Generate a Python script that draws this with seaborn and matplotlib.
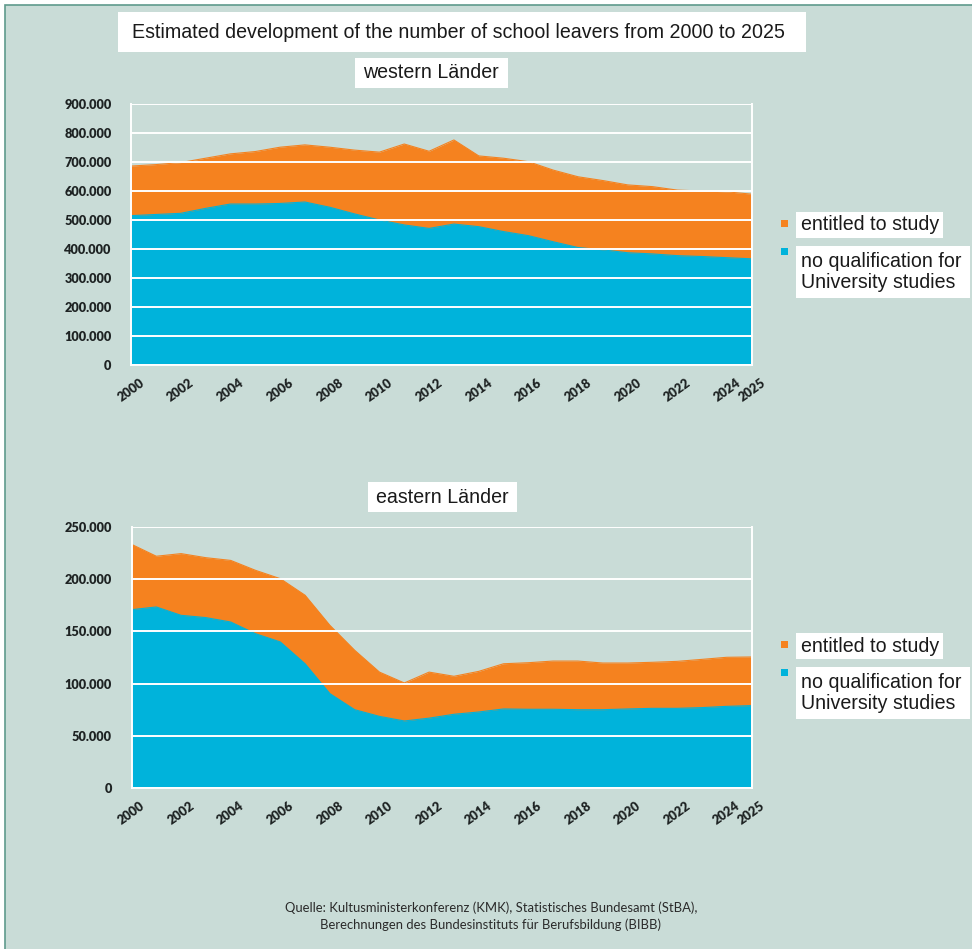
import matplotlib
matplotlib.use("Agg")
import matplotlib.pyplot as plt
from matplotlib.patches import Rectangle
from matplotlib.ticker import FuncFormatter
import numpy as np
import pandas as pd
import seaborn as sns

# ---- data -------------------------------------------------------------
years = list(range(2000, 2026))

west_no_qual = [515, 519, 523, 540, 555, 555, 557, 562, 544, 521, 500, 483, 471,
                486, 477, 460, 446, 425, 405, 397, 387, 383, 377, 374, 370, 366]
west_total = [686, 691, 698, 713, 728, 736, 751, 759, 751, 741, 734, 762, 737,
              776, 721, 713, 701, 672, 649, 636, 621, 615, 603, 600, 597, 589]

east_no_qual = [170.8, 173.4, 165.4, 163.2, 159.0, 147.8, 139.9, 119.0, 90.4, 75.0,
                68.6, 64.2, 66.9, 70.6, 72.8, 75.7, 75.4, 75.4, 75.0, 75.0,
                75.7, 76.3, 76.3, 77.0, 78.2, 78.9]
east_total = [233.4, 222.0, 224.5, 220.6, 218.0, 208.5, 200.5, 184.6, 155.8, 131.9,
              111.0, 100.6, 111.0, 107.0, 111.7, 119.0, 120.0, 121.6, 121.6, 119.7,
              119.7, 120.4, 121.3, 123.2, 125.2, 125.5]

x_tick_years = [2000, 2002, 2004, 2006, 2008, 2010, 2012, 2014, 2016, 2018,
                2020, 2022, 2024, 2025]

series_labels = ["entitled to study", "no qualification for\nUniversity studies"]
title_text = "Estimated development of the number of school leavers from 2000 to 2025"
panel_titles = ["western Länder", "eastern Länder"]
source_text = ("Quelle: Kultusministerkonferenz (KMK), Statistisches Bundesamt (StBA),\n"
               "Berechnungen des Bundesinstituts für Berufsbildung (BIBB)")

# ---- style ------------------------------------------------------------
ORANGE = "#f5821f"
BLUE = "#00b3db"
BG = "#c9dcd7"
FRAME = "#5f9a8c"
TEXT_SIZE = 14.1

sns.set_theme(style="white")
plt.rcParams["font.family"] = ["Liberation Sans", "DejaVu Sans"]

W, H = 972, 949
fig = plt.figure(figsize=(W / 100, H / 100), dpi=100)
fig.patch.set_facecolor("white")


def fx(px):
    return px / W


def fy(py):
    return 1 - py / H


# panel background with thin frame
fig.patches.append(Rectangle((fx(5), fy(H + 5)), fx(W), 1.0,
                             transform=fig.transFigure, facecolor=BG,
                             edgecolor=FRAME, linewidth=1.2, zorder=-10))


def white_box(x0, y0, x1, y1):
    fig.patches.append(Rectangle((fx(x0), fy(y1)), fx(x1 - x0), (y1 - y0) / H,
                                 transform=fig.transFigure, facecolor="white",
                                 edgecolor="none", zorder=1))


def swatch(x0, y0, color, size=7):
    fig.patches.append(Rectangle((fx(x0), fy(y0 + size)), fx(size), size / H,
                                 transform=fig.transFigure, facecolor=color,
                                 edgecolor="none", zorder=2))


def thousands(v, _pos):
    return f"{int(round(v)):,}".replace(",", ".")


def draw_panel(rect, no_qual, total, scale, ymax, ystep):
    ax = fig.add_axes(rect)
    ax.set_facecolor("none")
    df = pd.DataFrame({
        "year": years,
        "no_qual": np.array(no_qual) * scale,
        "total": np.array(total) * scale,
    })
    ax.fill_between(df["year"], 0, df["total"], color=ORANGE, linewidth=0, zorder=1)
    ax.fill_between(df["year"], 0, df["no_qual"], color=BLUE, linewidth=0, zorder=1.1)
    sns.lineplot(data=df, x="year", y="total", color=ORANGE, lw=0.8, ax=ax, zorder=1.2)
    sns.lineplot(data=df, x="year", y="no_qual", color=BLUE, lw=0.8, ax=ax, zorder=1.2)

    ax.set_xlim(2000, 2025)
    ax.set_ylim(0, ymax)
    ax.set_yticks(np.arange(0, ymax + 1, ystep))
    ax.yaxis.set_major_formatter(FuncFormatter(thousands))
    ax.set_xticks(x_tick_years)
    ax.set_xticklabels([str(y) for y in x_tick_years])
    ax.set_xlabel("")
    ax.set_ylabel("")

    ax.set_axisbelow(False)
    ax.yaxis.grid(True, color="white", lw=1.4, zorder=3)
    ax.xaxis.grid(False)
    for side in ("left", "right", "bottom"):
        ax.spines[side].set_visible(True)
        ax.spines[side].set_color("white")
        ax.spines[side].set_linewidth(1.4)
        ax.spines[side].set_zorder(3)
    ax.spines["top"].set_visible(False)

    ax.tick_params(axis="both", length=0)
    ax.tick_params(axis="y", pad=14)
    ax.tick_params(axis="x", pad=8)
    for lab in ax.get_yticklabels() + ax.get_xticklabels():
        lab.set_fontfamily(["Lato", "DejaVu Sans"])
        lab.set_fontweight("heavy")
        lab.set_fontsize(9.2)
        lab.set_color("#1e2323")
    for lab in ax.get_xticklabels():
        lab.set_rotation(36)
        lab.set_ha("center")
        lab.set_va("top")
    return ax


# axes rectangles (figure fractions)
draw_panel([fx(131), fy(365), fx(621), 261 / H], west_no_qual, west_total,
           1000, 900000, 100000)
draw_panel([fx(131.5), fy(788), fx(620), 261 / H], east_no_qual, east_total,
           1000, 250000, 50000)

# title and panel captions
white_box(118, 12, 806, 52)
fig.text(fx(458), fy(32), title_text, ha="center", va="center",
         fontsize=TEXT_SIZE, color="#1a1a1a", zorder=2)
white_box(355, 58, 508, 88)
fig.text(fx(431), fy(73), panel_titles[0], ha="center", va="center",
         fontsize=TEXT_SIZE, color="#1a1a1a", zorder=2)
white_box(368, 482, 517, 512)
fig.text(fx(442), fy(497), panel_titles[1], ha="center", va="center",
         fontsize=TEXT_SIZE, color="#1a1a1a", zorder=2)


# legends
def legend_block(y_text):
    swatch(781, y_text - 4, ORANGE)
    white_box(796, y_text - 12, 943, y_text + 14)
    fig.text(fx(801), fy(y_text + 1), series_labels[0], ha="left", va="center",
             fontsize=TEXT_SIZE, color="#1a1a1a", zorder=2)
    swatch(781, y_text + 24, BLUE)
    white_box(796, y_text + 22, 970, y_text + 74)
    fig.text(fx(801), fy(y_text + 48), series_labels[1], ha="left", va="center",
             fontsize=TEXT_SIZE, color="#1a1a1a", linespacing=1.08, zorder=2)


legend_block(224)
legend_block(645)

# source note
fig.text(fx(491), fy(916), source_text, ha="center", va="center",
         fontsize=9.4, color="#2a2a2a", linespacing=1.4,
         family=["Lato", "DejaVu Sans"])

fig.savefig("out.png", dpi=100, facecolor=fig.get_facecolor())
